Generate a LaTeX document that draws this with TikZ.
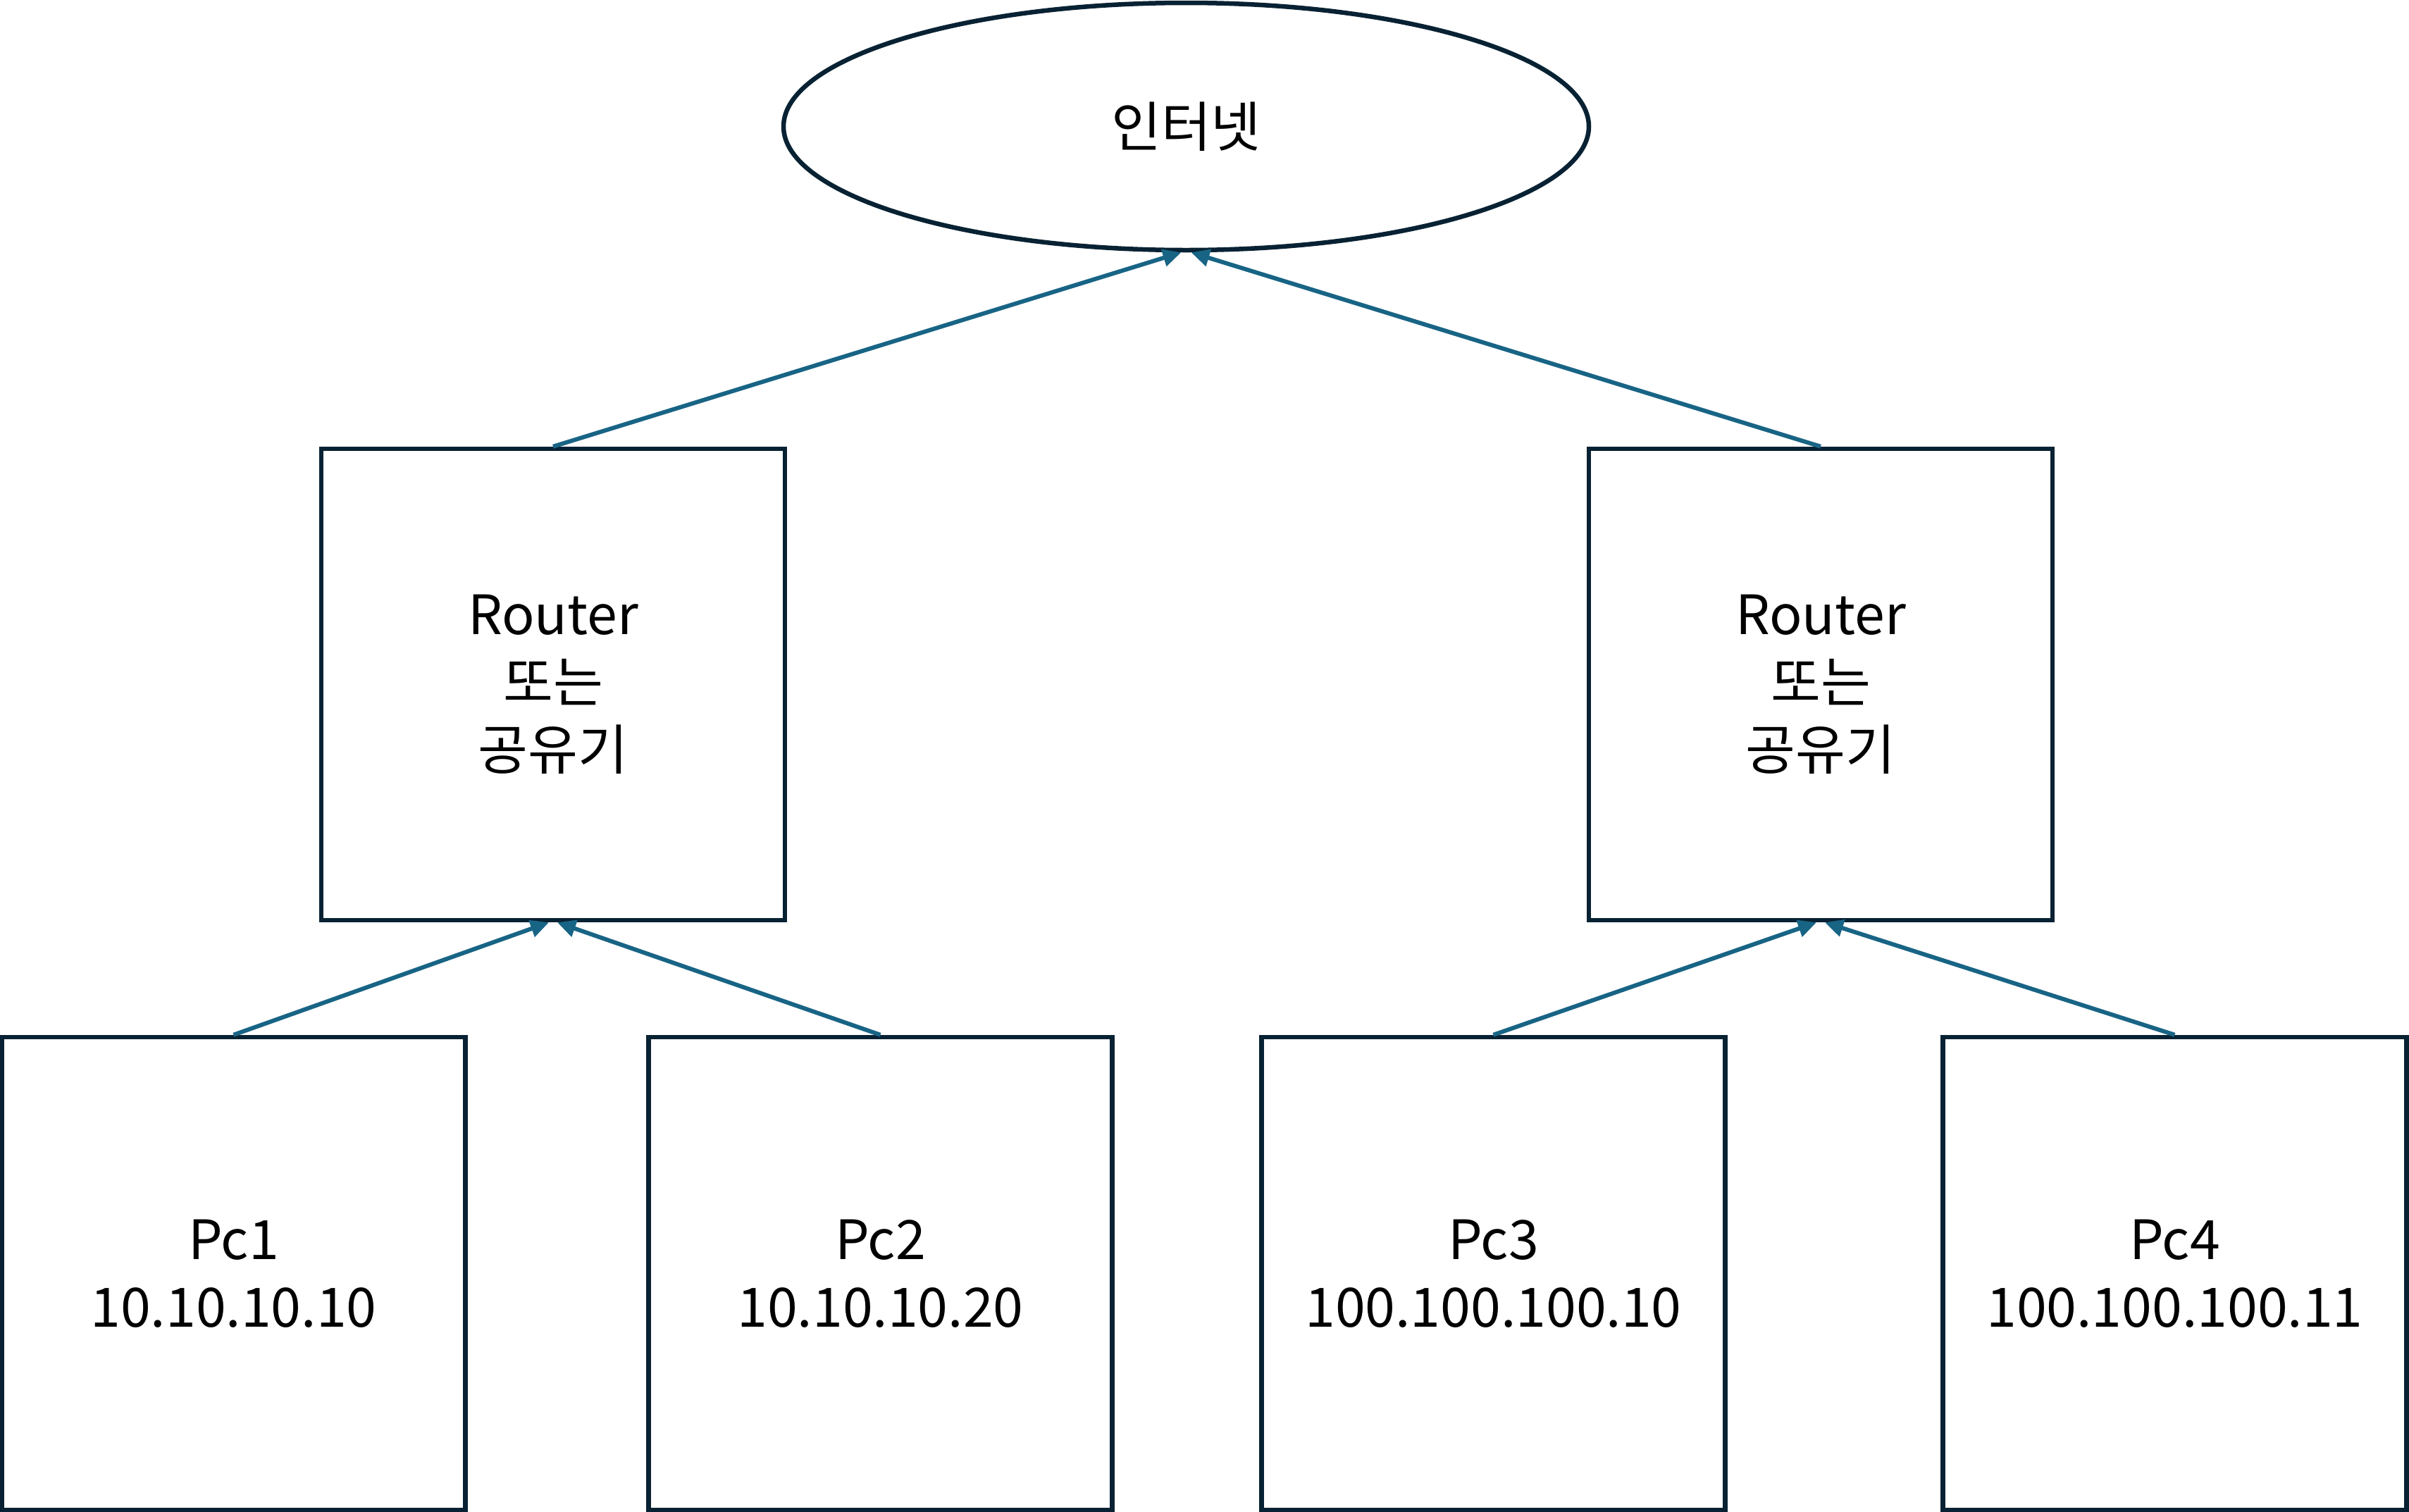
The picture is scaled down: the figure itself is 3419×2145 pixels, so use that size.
\documentclass[tikz,border=0pt]{standalone}
\usepackage{fontspec}
\setmainfont{Noto Sans CJK KR}
\usetikzlibrary{shapes.geometric,arrows.meta}
\definecolor{boxline}{HTML}{082233}
\definecolor{arrowcol}{HTML}{186485}
\begin{document}
\begin{tikzpicture}[x=1pt,y=-1pt,
  boxnode/.style={draw=boxline,line width=6.5pt,minimum width=658pt,minimum height=669pt,inner sep=0pt,align=center,font=\fontsize{77}{96}\selectfont},
  rtnode/.style={boxnode,minimum height=669pt},
  cloud/.style={draw=boxline,line width=6.5pt,ellipse,minimum width=1143pt,minimum height=351pt,inner sep=0pt,font=\fontsize{77}{96}\selectfont},
  link/.style={draw=arrowcol,line width=6pt,-{Triangle[length=26pt,width=24pt]}}]
\useasboundingbox (0,0) rectangle (3419,2145);
\node[cloud] (net) at (1683.5,179.5) {인터넷};
\node[rtnode] (r1) at (785,971.5) {Router\\또는\\공유기};
\node[rtnode] (r2) at (2584,971.5) {Router\\또는\\공유기};
\node[boxnode,minimum height=671pt] (p1) at (331.5,1807.5) {Pc1\\10.10.10.10};
\node[boxnode,minimum height=671pt] (p2) at (1249.5,1807.5) {Pc2\\10.10.10.20};
\node[boxnode,minimum height=671pt] (p3) at (2119.5,1807.5) {Pc3\\100.100.100.10};
\node[boxnode,minimum height=671pt] (p4) at (3086.5,1807.5) {Pc4\\100.100.100.11};
\draw[link] (r1.north) -- ([xshift=-7pt]net.south);
\draw[link] (r2.north) -- ([xshift=7pt]net.south);
\draw[link] (p1.north) -- ([xshift=-6pt]r1.south);
\draw[link] (p2.north) -- ([xshift=6pt]r1.south);
\draw[link] (p3.north) -- ([xshift=-6pt]r2.south);
\draw[link] (p4.north) -- ([xshift=6pt]r2.south);
\end{tikzpicture}
\end{document}
